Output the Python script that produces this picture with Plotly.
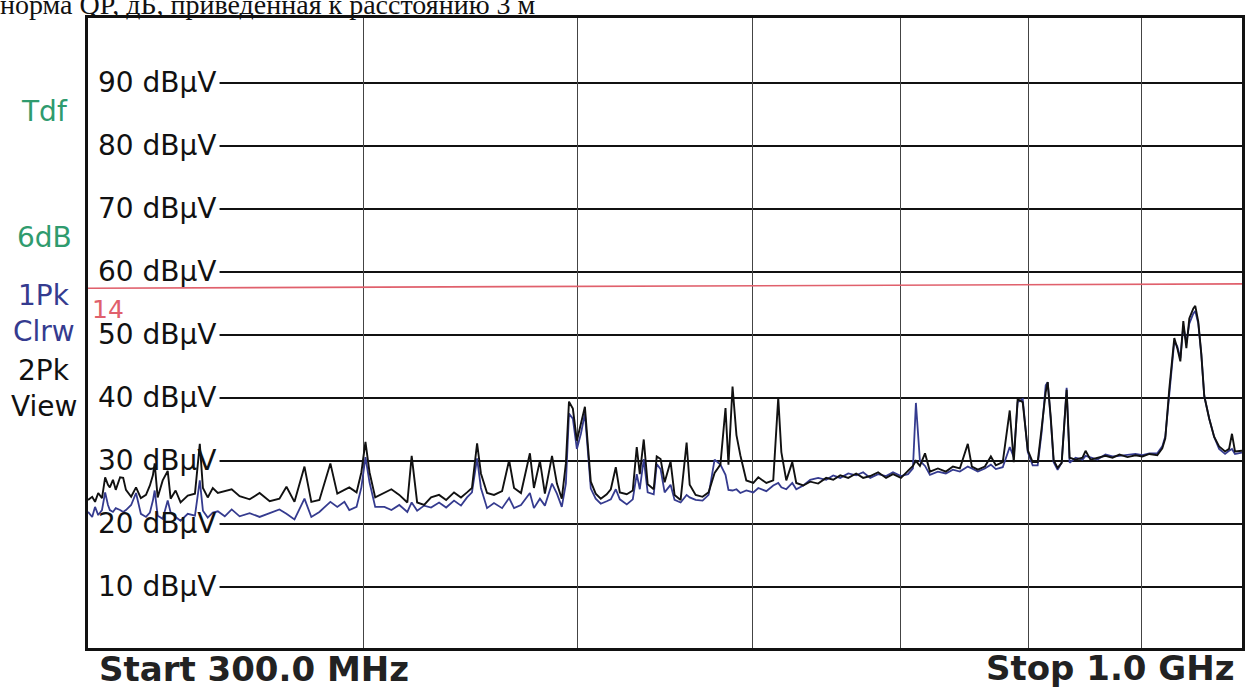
import plotly.graph_objects as go

freq_mhz = [
    300.0, 301.3, 302.2, 303.2, 304.4, 305.4, 306.3, 306.9, 307.9, 308.8,
    310.2, 311.2, 312.1, 313.8, 315.4, 317.0, 318.7, 320.0, 321.0, 321.6,
    322.6, 324.3, 326.0, 327.0, 328.7, 330.4, 332.9, 335.4, 337.1, 338.2,
    339.9, 341.7, 343.5, 346.0,
    348.5, 351.4, 355.1, 358.8, 362.6, 366.3,
    369.0, 372.1, 376.0, 378.7, 381.9, 386.3, 389.1, 392.0, 394.0, 397.0,
    399.0, 400.7, 402.4, 404.8, 408.7, 411.7, 415.1, 418.6, 420.5, 422.9,
    426.0, 429.1, 432.7, 435.9, 439.5, 442.7, 445.5, 447.8, 450.2, 452.0,
    454.9, 458.2, 462.1, 465.5, 467.9, 471.3, 475.7, 477.7, 480.7, 483.2,
    486.8, 489.3, 491.8, 493.9, 495.5, 497.5, 499.6, 501.7, 503.8, 505.3,
    506.9, 509.5, 512.2, 515.4, 517.6, 520.3, 522.5, 526.3, 529.6, 531.8,
    533.5, 535.7, 537.9, 541.3, 543.0, 545.2, 547.5, 550.9, 553.2, 556.7,
    560.2, 562.0, 565.5, 569.6, 573.2, 576.8, 580.3, 583.4, 585.2, 587.7,
    590.1, 592.5, 596.2, 600.6, 603.7, 608.8, 613.2, 616.4, 618.4, 621.6,
    625.5, 628.1, 632.7, 637.3, 642.6, 648.0, 652.8, 657.6, 663.1, 668.6,
    673.5, 678.5, 684.1, 689.8, 694.8, 700.6, 705.8, 709.4, 711.6, 714.6,
    718.4, 722.1, 728.1, 734.2, 739.6, 745.0, 751.2, 754.4, 759.1, 764.7,
    769.5, 773.5, 779.1, 784.8, 788.1, 791.3, 795.5, 799.7, 803.8, 808.0,
    811.4, 814.8, 816.5, 819.1, 821.6, 825.0, 828.5, 832.8, 835.4, 840.6,
    846.7, 849.4, 853.8, 860.0, 867.2, 873.6, 880.0, 887.4, 894.8, 901.3,
    907.9, 915.4, 920.2, 923.1, 927.0, 931.8, 934.7, 937.7, 940.6, 943.6,
    946.5, 950.5, 952.4, 955.4, 958.4, 961.4, 966.4, 971.4, 976.4, 982.5,
    986.6, 989.6, 992.7, 1000.0,
]

# trace 2: Pk, View (black)
view_db = [
    23.8, 24.3, 23.5, 24.9, 24.1, 27.4, 26.2, 25.8, 27.0, 25.4,
    27.4, 27.3, 25.4, 24.3, 25.8, 24.1, 24.6, 26.1, 27.7, 29.6,
    24.2, 26.9, 28.4, 24.0, 25.3, 23.4, 24.5, 24.8, 32.7, 25.7,
    24.2, 25.7, 24.9, 25.2,
    25.5, 24.4, 23.9, 24.9, 23.6, 24.0,
    25.9, 23.5, 29.1, 23.5, 23.8, 29.6, 24.8, 25.4, 25.8, 25.0,
    28.2, 33.0, 28.2, 24.2, 25.0, 25.5, 24.6, 23.4, 30.8, 23.4,
    23.0, 24.2, 24.6, 23.8, 25.0, 24.2, 25.0, 25.7, 32.8, 28.0,
    24.9, 24.6, 25.2, 30.1, 25.7, 24.9, 31.2, 25.7, 30.0, 24.8,
    30.8, 26.4, 24.0, 29.6, 39.4, 38.3, 33.2, 35.9, 38.6, 32.7,
    26.7, 24.8, 24.0, 24.7, 25.5, 29.0, 25.0, 24.7, 25.3, 32.2,
    27.9, 33.4, 26.3, 25.5, 30.7, 30.3, 26.6, 29.9, 24.6, 23.8,
    32.9, 26.2, 24.6, 24.3, 25.0, 28.1, 29.4, 38.4, 29.4, 41.8,
    34.1, 30.9, 26.9, 26.5, 27.4, 26.5, 26.9, 40.0, 31.4, 26.9,
    29.8, 26.5, 26.1, 26.7, 26.4, 27.3, 27.0, 27.7, 27.3, 28.0,
    27.3, 27.6, 28.2, 27.3, 27.9, 27.3, 28.4, 29.2, 30.0, 29.2,
    31.2, 28.3, 28.8, 28.3, 29.1, 28.8, 32.7, 29.1, 28.6, 29.1,
    30.7, 29.3, 29.8, 38.0, 29.8, 39.8, 39.3, 31.7, 29.8, 29.8,
    35.3, 40.9, 42.5, 36.9, 30.1, 28.9, 29.7, 41.3, 30.5, 30.2,
    30.5, 31.6, 30.2, 30.5, 30.8, 30.5, 31.0, 30.6, 30.9, 30.7,
    31.1, 30.9, 32.0, 33.6, 41.5, 49.5, 47.9, 45.8, 52.2, 47.9,
    52.6, 54.2, 54.6, 52.1, 47.0, 40.3, 36.7, 33.8, 32.3, 31.5,
    31.9, 34.3, 31.5, 31.6,
]

# trace 1: Pk, Clrw (blue)
clrw_db = [
    21.9, 21.1, 22.7, 21.4, 22.2, 25.0, 23.0, 22.2, 21.9, 22.5,
    22.2, 21.9, 22.2, 23.0, 24.9, 21.6, 21.1, 21.8, 23.7, 25.3,
    21.3, 20.8, 23.7, 21.8, 21.1, 20.5, 21.6, 21.3, 26.9, 22.1,
    21.0, 21.8, 22.0, 21.2,
    22.3, 21.2, 21.7, 21.1, 21.7, 22.3,
    21.6, 20.7, 24.0, 21.1, 21.9, 23.5, 22.7, 23.5, 22.2, 22.7,
    25.8, 30.6, 26.6, 22.7, 22.7, 22.2, 23.0, 21.9, 23.4, 22.1,
    22.9, 22.6, 23.4, 22.6, 23.7, 22.9, 24.2, 25.0, 30.4, 25.7,
    22.5, 23.3, 22.5, 24.1, 22.5, 23.0, 24.9, 22.5, 24.0, 22.9,
    26.4, 24.8, 22.7, 26.4, 37.5, 36.7, 31.9, 34.3, 37.5, 31.9,
    25.6, 24.0, 23.2, 23.6, 23.9, 25.5, 23.9, 23.1, 23.9, 27.9,
    25.5, 30.3, 25.0, 24.7, 29.5, 28.7, 25.0, 26.2, 23.8, 23.4,
    24.6, 24.2, 23.8, 23.7, 24.6, 30.2, 29.4, 27.8, 25.4, 25.3,
    25.5, 24.9, 25.3, 25.0, 25.7, 25.2, 26.1, 26.5, 25.8, 25.5,
    26.5, 25.5, 26.1, 27.0, 27.3, 27.0, 27.7, 27.3, 28.0, 27.7,
    28.2, 27.3, 27.9, 27.6, 28.2, 27.6, 27.9, 28.8, 39.2, 30.0,
    29.2, 27.8, 28.3, 28.0, 28.6, 28.3, 29.1, 28.8, 28.3, 28.8,
    29.4, 28.7, 29.0, 32.2, 30.6, 39.3, 39.8, 31.4, 29.3, 29.3,
    34.6, 42.0, 42.5, 36.6, 29.8, 28.6, 29.7, 41.6, 29.7, 30.5,
    30.2, 30.8, 30.5, 30.2, 31.0, 30.7, 30.8, 30.9, 31.1, 30.9,
    31.2, 31.2, 32.3, 33.9, 41.2, 49.0, 48.2, 46.3, 51.4, 48.7,
    51.8, 53.4, 53.8, 51.8, 47.0, 40.3, 36.7, 33.8, 31.9, 31.1,
    31.6, 31.9, 31.1, 31.3,
]

assert len(freq_mhz) == len(view_db) == len(clrw_db)

limit_freq = [300.0, 1000.0]
limit_db = [57.4, 58.1]

level_ticks = [10, 20, 30, 40, 50, 60, 70, 80, 90]
level_labels = [f"{v} dBµV" for v in level_ticks]
freq_grid = [400, 500, 600, 700, 800, 900]

BLUE = "#353b8f"
GREEN = "#2f9b6e"
RED = "#e0606c"
FONT = "DejaVu Sans"

fig = go.Figure()
fig.add_trace(go.Scatter(x=freq_mhz, y=clrw_db, mode="lines",
                         line=dict(color=BLUE, width=1.8), name="1Pk Clrw"))
fig.add_trace(go.Scatter(x=freq_mhz, y=view_db, mode="lines",
                         line=dict(color="#111111", width=1.9), name="2Pk View"))
fig.add_trace(go.Scatter(x=limit_freq, y=limit_db, mode="lines",
                         line=dict(color=RED, width=1.6), name="14"))

shapes = []
annotations = []
for v, lab in zip(level_ticks, level_labels):
    shapes.append(dict(type="line", xref="paper", yref="y", x0=0.114, x1=1,
                       y0=v, y1=v, line=dict(color="#111111", width=2), layer="below"))
    annotations.append(dict(text=lab, xref="paper", yref="y", x=0.007, y=v,
                            xanchor="left", yanchor="middle", showarrow=False,
                            font=dict(family=FONT, size=28, color="#111111")))

side = [("Tdf", 0.851, GREEN), ("6dB", 0.652, GREEN), ("1Pk", 0.559, BLUE),
        ("Clrw", 0.503, BLUE), ("2Pk", 0.441, "#111111"), ("View", 0.384, "#111111")]
for txt, yy, col in side:
    annotations.append(dict(text=txt, xref="paper", yref="paper", x=-0.038, y=yy,
                            xanchor="center", yanchor="middle", showarrow=False,
                            font=dict(family=FONT, size=28, color=col)))

annotations.append(dict(text="14", xref="paper", yref="paper", x=0.002, y=0.538,
                        xanchor="left", yanchor="middle", showarrow=False,
                        font=dict(family=FONT, size=25, color=RED)))
annotations.append(dict(text="норма QP, дБ, приведенная к расстоянию 3 м",
                        xref="paper", yref="paper", x=-0.078, y=1.021,
                        xanchor="left", yanchor="middle", showarrow=False,
                        font=dict(family="Liberation Serif", size=28, color="#111111")))
annotations.append(dict(text="<b>Start 300.0 MHz</b>", xref="paper", yref="paper",
                        x=0.144, y=-0.034, xanchor="center", yanchor="middle",
                        showarrow=False, font=dict(family=FONT, size=34, color="#222222")))
annotations.append(dict(text="<b>Stop 1.0 GHz</b>", xref="paper", yref="paper",
                        x=0.886, y=-0.031, xanchor="center", yanchor="middle",
                        showarrow=False, font=dict(family=FONT, size=34, color="#222222")))

fig.update_layout(
    width=1251, height=693,
    margin=dict(l=88, r=6, t=18, b=45),
    paper_bgcolor="white", plot_bgcolor="white",
    showlegend=False,
    shapes=shapes, annotations=annotations,
    xaxis=dict(type="log", range=[2.4771, 3.0], tickvals=freq_grid,
               showticklabels=False, ticks="", showgrid=True,
               gridcolor="#444444", gridwidth=1, showline=True, mirror=True,
               linecolor="#111111", linewidth=3, zeroline=False),
    yaxis=dict(range=[0.3, 100.3], showticklabels=False, ticks="", showgrid=False,
               showline=True, mirror=True, linecolor="#111111", linewidth=3,
               zeroline=False),
)

fig.write_html("out.html", config={"displayModeBar": False},
               post_script="document.body.style.margin='0';document.body.style.overflow='hidden';")
